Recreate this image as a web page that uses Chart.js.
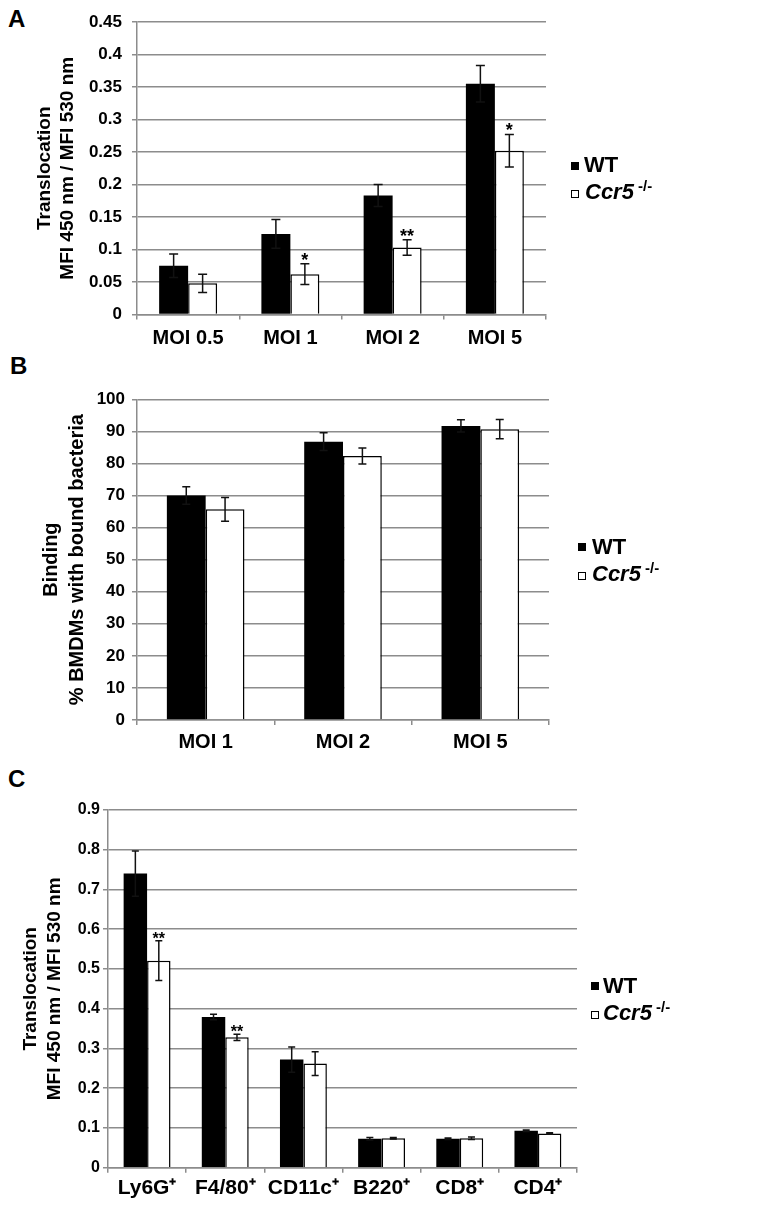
<!DOCTYPE html>
<html>
<head>
<meta charset="utf-8">
<script src="https://cdn.jsdelivr.net/npm/chart.js@4.4.0/dist/chart.umd.min.js"></script>
<style>
body{margin:0;background:#fff;}
#page{position:relative;width:768px;height:1205px;overflow:hidden;font-family:'Liberation Sans',Arial,sans-serif;font-weight:bold;color:#000;}
canvas{position:absolute;left:0;}
.lbl{position:absolute;font-size:24px;line-height:24px;}
.sw{position:absolute;width:8px;height:8px;box-sizing:border-box;border:1px solid #000;}
.txt{position:absolute;font-size:22px;line-height:26px;white-space:nowrap;}
.txt sup{font-size:15px;vertical-align:8px;line-height:0;}
.narrow{font-family:'Liberation Sans Narrow','Liberation Sans',Arial,sans-serif;}
</style>
</head>
<body>
<div id="page">
  <div class="lbl" style="left:8px;top:7px">A</div>
  <div class="lbl" style="left:10px;top:354px">B</div>
  <div class="lbl" style="left:8px;top:767px">C</div>

  <canvas id="chartA" width="768" height="350" style="top:0"></canvas>
  <canvas id="chartB" width="768" height="380" style="top:380px"></canvas>
  <canvas id="chartC" width="768" height="415" style="top:790px"></canvas>

  <div class="sw" style="left:571px;top:162px;background:#000"></div>
  <div class="txt" style="left:584px;top:152px">WT</div>
  <div class="sw" style="left:571px;top:190px;background:#fff"></div>
  <div class="txt" style="left:585px;top:179px"><i>Ccr5</i><sup> -/-</sup></div>

  <div class="sw" style="left:578px;top:543px;background:#000"></div>
  <div class="txt" style="left:592px;top:534px">WT</div>
  <div class="sw" style="left:578px;top:572px;background:#fff"></div>
  <div class="txt" style="left:592px;top:561px"><i>Ccr5</i><sup> -/-</sup></div>

  <div class="sw" style="left:591px;top:982px;background:#000"></div>
  <div class="txt narrow" style="left:603px;top:973px">WT</div>
  <div class="sw" style="left:591px;top:1011px;background:#fff"></div>
  <div class="txt narrow" style="left:603px;top:1000px"><i>Ccr5</i><sup> -/-</sup></div>
</div>
<script>
const GRID = '#8c8c8c'
const FONT = "'Liberation Sans', Arial, sans-serif"
const NARROW = "'Liberation Sans Narrow', 'Liberation Sans', Arial, sans-serif"

// A - translocation by MOI
const catsA = ['MOI 0.5', 'MOI 1', 'MOI 2', 'MOI 5']
const wtA = [0.075, 0.124, 0.183, 0.355]
const wtErrA = [0.018, 0.022, 0.017, 0.028]
const koA = [0.048, 0.062, 0.103, 0.252]
const koErrA = [0.014, 0.016, 0.012, 0.025]
const sigA = ['', '*', '**', '*']

// B - binding by MOI
const catsB = ['MOI 1', 'MOI 2', 'MOI 5']
const wtB = [70, 86.8, 91.7]
const wtErrB = [2.7, 2.8, 1.9]
const koB = [65.7, 82.3, 90.7]
const koErrB = [3.7, 2.5, 3.0]
const sigB = ['', '', '']

// C - translocation by cell type
const catsC = ['Ly6G\u207A', 'F4/80\u207A', 'CD11c\u207A', 'B220\u207A', 'CD8\u207A', 'CD4\u207A']
const wtC = [0.740, 0.379, 0.272, 0.073, 0.073, 0.093]
const wtErrC = [0.057, 0.007, 0.032, 0.003, 0.002, 0.002]
const koC = [0.521, 0.328, 0.262, 0.074, 0.074, 0.086]
const koErrC = [0.05, 0.008, 0.03, 0.002, 0.003, 0.002]
const sigC = ['**', '**', '', '', '', '']

const errorBars = {
    id: 'errorBars',
    afterDatasetsDraw(chart, args, opts){
        const ctx = chart.ctx, y = chart.scales.y
        chart.data.datasets.forEach((ds, i)=>{
            chart.getDatasetMeta(i).data.forEach((bar, j)=>{
                const v = ds.data[j], e = ds.errors[j]
                const top = y.getPixelForValue(v + e), bot = y.getPixelForValue(v - e)
                ctx.save()
                ctx.strokeStyle = '#111'
                ctx.lineWidth = 1.5
                ctx.beginPath()
                ctx.moveTo(bar.x, top); ctx.lineTo(bar.x, bot)
                ctx.moveTo(bar.x - opts.cap, top); ctx.lineTo(bar.x + opts.cap, top)
                ctx.moveTo(bar.x - opts.cap, bot); ctx.lineTo(bar.x + opts.cap, bot)
                ctx.stroke()
                if(ds.stars && ds.stars[j]){
                    ctx.fillStyle = '#000'
                    ctx.font = opts.starFont
                    ctx.textAlign = 'center'
                    ctx.textBaseline = 'alphabetic'
                    ctx.fillText(ds.stars[j], bar.x, top + opts.starDy)
                }
                ctx.restore()
            })
        })
    }
}

function panel(id, cfg){
    return new Chart(document.getElementById(id), {
        type: 'bar',
        data: {
            labels: cfg.labels,
            datasets: [
                {label: 'WT', data: cfg.wt, errors: cfg.wtErr, backgroundColor: '#000', borderColor: '#000', borderWidth: 0},
                {label: 'Ccr5 -/-', data: cfg.ko, errors: cfg.koErr, stars: cfg.sig, backgroundColor: '#fff', borderColor: '#000', borderWidth: 1.5}
            ]
        },
        options: {
            responsive: false,
            animation: false,
            devicePixelRatio: 1,
            layout: {padding: {left: 0, top: cfg.top, right: cfg.right, bottom: 0}},
            datasets: {bar: {categoryPercentage: cfg.cat, barPercentage: 1}},
            plugins: {
                legend: {display: false},
                tooltip: {enabled: false},
                errorBars: {cap: cfg.cap, starFont: cfg.starFont, starDy: cfg.starDy}
            },
            scales: {
                x: {
                    grid: {drawOnChartArea: false, drawTicks: true, tickLength: 5, color: GRID, lineWidth: 1.5},
                    border: {color: GRID, width: 1.5},
                    ticks: {color: '#000', font: cfg.xFont, padding: cfg.xPad, maxRotation: 0, autoSkip: false},
                    afterFit: s=>{ s.height = cfg.xH }
                },
                y: {
                    min: 0,
                    max: cfg.max,
                    ticks: {stepSize: cfg.step, color: '#000', font: cfg.yFont, padding: cfg.yPad, callback: v=>String(+v.toFixed(2))},
                    grid: {color: GRID, lineWidth: 1.5, tickLength: 5},
                    border: {color: GRID, width: 1.5},
                    title: {display: true, text: cfg.title, color: '#000', font: cfg.tFont, padding: {top: cfg.tPad, bottom: 0}},
                    afterFit: s=>{ s.width = cfg.left }
                }
            }
        },
        plugins: [errorBars]
    })
}

panel('chartA', {
    labels: catsA, wt: wtA, wtErr: wtErrA, ko: koA, koErr: koErrA, sig: sigA,
    top: 22, left: 137, right: 222, xH: 35.5, max: 0.45, step: 0.05, cat: 0.567,
    cap: 4.5, starFont: 'bold 18px ' + FONT, starDy: 2,
    title: ['Translocation', 'MFI 450 nm / MFI 530 nm'],
    tFont: {family: FONT, size: 19, weight: 'bold', lineHeight: 23/19}, tPad: 33.5,
    yFont: {family: FONT, size: 17, weight: 'bold'}, yPad: 10,
    xFont: {family: FONT, size: 20, weight: 'bold'}, xPad: 6.5
})

panel('chartB', {
    labels: catsB, wt: wtB, wtErr: wtErrB, ko: koB, koErr: koErrB, sig: sigB,
    top: 19.3, left: 137, right: 219, xH: 40, max: 100, step: 10, cat: 0.565,
    cap: 4, starFont: 'bold 18px ' + FONT, starDy: 2,
    title: ['Binding', '% BMDMs with bound bacteria'],
    tFont: {family: FONT, size: 20, weight: 'bold', lineHeight: 1.3}, tPad: 38.7,
    yFont: {family: FONT, size: 17, weight: 'bold'}, yPad: 7,
    xFont: {family: FONT, size: 20, weight: 'bold'}, xPad: 5
})

panel('chartC', {
    labels: catsC, wt: wtC, wtErr: wtErrC, ko: koC, koErr: koErrC, sig: sigC,
    top: 20, left: 108, right: 191, xH: 37.3, max: 0.9, step: 0.1, cat: 0.6,
    cap: 3.5, starFont: 'bold 16px ' + FONT, starDy: 3,
    title: ['Translocation', 'MFI 450 nm / MFI 530 nm'],
    tFont: {family: FONT, size: 19, weight: 'bold', lineHeight: 24/19}, tPad: 19,
    yFont: {family: FONT, size: 16, weight: 'bold'}, yPad: 3,
    xFont: {family: NARROW, size: 21, weight: 'bold'}, xPad: 3
})
</script>
</body>
</html>
